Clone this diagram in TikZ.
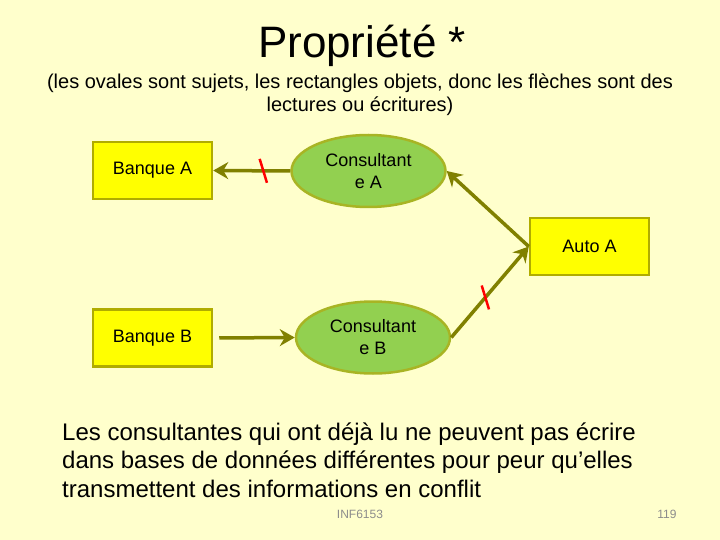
\documentclass[tikz,border=0pt]{standalone}
\usepackage{fontspec}
\setmainfont{Liberation Sans}
\usepackage{xcolor}
\usetikzlibrary{shapes.geometric,arrows.meta}

\definecolor{fond}{HTML}{FFFFCC}
\definecolor{jaune}{HTML}{FFFF00}
\definecolor{bordjaune}{HTML}{B0AC00}
\definecolor{vert}{HTML}{92D050}
\definecolor{bordvert}{HTML}{A8B424}
\definecolor{olive}{HTML}{808000}
\definecolor{pied}{HTML}{8C8C8C}

\begin{document}
\begin{tikzpicture} [x=1pt, y=-1pt,
    objet/.style={draw=bordjaune, line width=2.5pt, fill=jaune, minimum width=119pt, minimum height=57pt, inner sep=0pt, font=\fontsize{18}{22}\selectfont},
    sujet/.style={ellipse, draw=bordvert, line width=2.5pt, fill=vert, minimum width=154pt, minimum height=72pt, inner sep=0pt, align=center, font=\fontsize{18}{22}\selectfont},
    acces/.style={draw=olive, line width=3.5pt, -{Stealth[length=15pt,width=17pt,inset=5pt]}},
    coupe/.style={fill=red, minimum width=2.5pt, minimum height=25pt, inner sep=0pt, rotate=17} ]
    \fill[fond] (0,0) rectangle (720,540);

    \node [font=\fontsize{44}{50}\selectfont, anchor=base] (titre) at (362,58) {Propriété *};
    % base = baseline of the last line
    \node [font=\fontsize{20}{23.5}\selectfont, align=center, anchor=base] (soustitre) at (360,112)
        {(les ovales sont sujets, les rectangles objets, donc les flèches sont des\\lectures ou écritures)};

    \node [objet] (banqueA) at (152.5,170.5) {Banque A};
    \node [objet] (banqueB) at (152.5,338) {Banque B};
    \node [objet] (autoA) at (589.5,246.5) {Auto A};
    \node [sujet] (consA) at (368.5,171) {Consultant\\e A};
    \node [sujet] (consB) at (373,337.5) {Consultant\\e B};

    \draw [acces] (consA.west) -- node[pos=0.35, coupe] {} (banqueA.east);
    \draw [acces] (autoA.west) -- (consA.east);
    \draw [acces] (consB.east) -- node[pos=0.44, coupe] {} (autoA.west);
    \draw [acces, shorten <=6pt] (banqueB.east) -- (consB.west);

    \node [font=\fontsize{24}{28.5}\selectfont, align=left, anchor=base west, inner sep=0pt] (texte) at (62,497)
        {Les consultantes qui ont déjà lu ne peuvent pas écrire\\dans bases de données différentes pour peur qu’elles\\transmettent des informations en conflit};

    \node [pied, font=\fontsize{12}{14}\selectfont] (cours) at (360,514) {INF6153};
    \node [pied, font=\fontsize{12}{14}\selectfont] (page) at (667,514) {119};
\end{tikzpicture}
\end{document}
